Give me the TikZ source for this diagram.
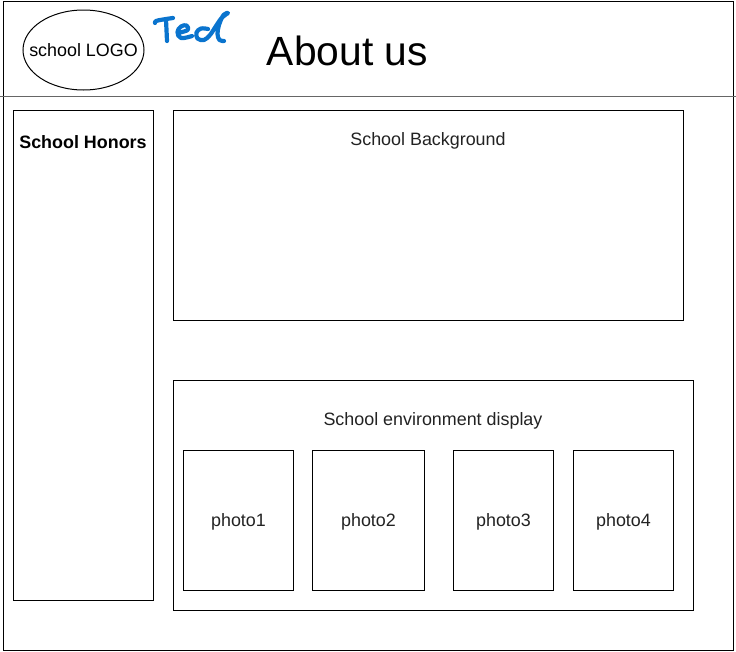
\documentclass[tikz,border=0pt]{standalone}
\usepackage{fontspec}
\setmainfont{Liberation Sans}
\usetikzlibrary{shapes.geometric}
\definecolor{inkblue}{RGB}{10,116,206}
\definecolor{txt}{RGB}{34,34,34}
\begin{document}
\begin{tikzpicture}[x=1pt,y=-1pt,
  frame/.style={draw=black,line width=1pt},
  panel/.style={draw=black,line width=1pt,anchor=north west,inner sep=0pt},
  caption/.style={font=\fontsize{17.9}{21}\selectfont,text=txt,inner sep=0pt,anchor=base},
  ink/.style={draw=inkblue,line width=4.2pt,line cap=round,line join=round}]
\useasboundingbox (0,0) rectangle (736,651);
% page frame and header rule
\draw[frame] (3.5,1) rectangle (733,650);
\draw[line width=1pt,draw=black!60] (0,96) -- (736,96);
% header
\node[draw=black,line width=1pt,ellipse,minimum width=121,minimum height=80,inner sep=0pt] (logo) at (83.5,50) {};
\node[caption,text=black] (logotext) at (83.5,56.5) {school LOGO};
\node[font=\fontsize{40.8}{48}\selectfont,inner sep=0pt,anchor=base] (title) at (347.5,65) {About us};
% handwritten signature
\draw[ink] plot[smooth,tension=0.6] coordinates {(155,23) (156,21) (163,19.5) (173,18)};
\draw[ink] plot[smooth,tension=0.6] coordinates {(166,20) (166.5,30) (167,41)};
\draw[ink] plot[smooth,tension=0.7] coordinates {(178,33) (184,31.5) (188,29.5) (186.5,25.5) (181,26.5) (177.5,32) (181,38) (192,36)};
\draw[ink] plot[smooth,tension=0.6] coordinates {(208,29) (201,28.5) (196.5,32.5) (197.5,38.5) (204,40) (210,35) (216,26) (222,17.5) (228,13) (223.5,15) (219,25) (217.5,34) (219.5,40) (224,41)};
% left column
\node[panel,minimum width=140,minimum height=490] (honors) at (13,110) {};
\node[caption,text=black,font=\fontsize{17.9}{21}\selectfont\bfseries] (honorstext) at (83,148.5) {School Honors};
% background panel
\node[panel,minimum width=510,minimum height=210] (background) at (173,110) {};
\node[caption] (backgroundtext) at (428,145.5) {School Background};
% environment panel with photos
\node[panel,minimum width=520,minimum height=230] (env) at (173,380) {};
\node[caption] (envtext) at (433,425.5) {School environment display};
\node[panel,minimum width=110,minimum height=140] (p1) at (183,450) {};
\node[panel,minimum width=112,minimum height=140] (p2) at (312,450) {};
\node[panel,minimum width=100,minimum height=140] (p3) at (453,450) {};
\node[panel,minimum width=100,minimum height=140] (p4) at (573,450) {};
\node[caption] at ([yshift=-5.5pt]p1.center) {photo1};
\node[caption] at ([yshift=-5.5pt]p2.center) {photo2};
\node[caption] at ([yshift=-5.5pt]p3.center) {photo3};
\node[caption] at ([yshift=-5.5pt]p4.center) {photo4};
\end{tikzpicture}
\end{document}
